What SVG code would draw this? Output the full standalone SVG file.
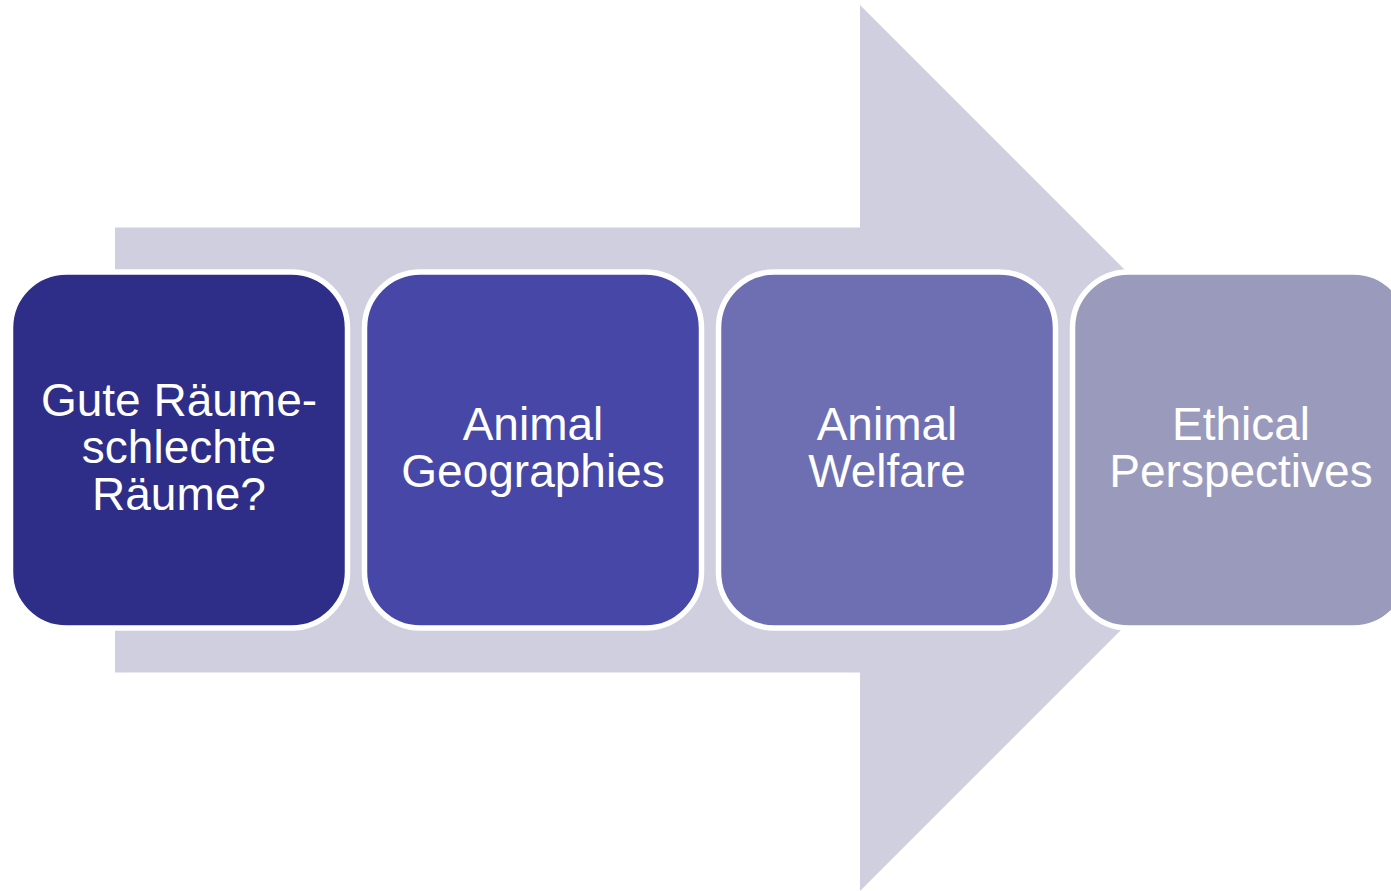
<svg xmlns="http://www.w3.org/2000/svg" width="1391" height="891" viewBox="0 0 1391 891">
<style>
.box{stroke:#FFFFFF;stroke-width:5.5}
.lbl{font-family:"Liberation Sans",Arial,sans-serif;font-size:46px;fill:#FFFFFF;text-anchor:middle}
</style>
<rect width="1391" height="891" fill="#FFFFFF"/>
<g id="arrow">
<polygon points="115,227.5 860,227.5 860,5 1303,448 860,891 860,672.5 115,672.5" fill="#CFCFDF"/>
</g>
<g id="node1">
<rect class="box" x="10.5" y="272" width="337" height="356" rx="56" fill="#2E2E88"/>
<text class="lbl" x="179" y="416">Gute Räume-</text>
<text class="lbl" x="179" y="463">schlechte</text>
<text class="lbl" x="179" y="510">Räume?</text>
</g>
<g id="node2">
<rect class="box" x="364.5" y="272" width="337" height="356" rx="56" fill="#4747A7"/>
<text class="lbl" x="533" y="439.5">Animal</text>
<text class="lbl" x="533" y="486.5">Geographies</text>
</g>
<g id="node3">
<rect class="box" x="718.5" y="272" width="337" height="356" rx="56" fill="#6E6EB3"/>
<text class="lbl" x="887" y="439.5">Animal</text>
<text class="lbl" x="887" y="486.5">Welfare</text>
</g>
<g id="node4">
<rect class="box" x="1072.5" y="272" width="337" height="356" rx="56" fill="#9A9ABD"/>
<text class="lbl" x="1241" y="439.5">Ethical</text>
<text class="lbl" x="1241" y="486.5">Perspectives</text>
</g>
<g id="connectors"></g>
</svg>
